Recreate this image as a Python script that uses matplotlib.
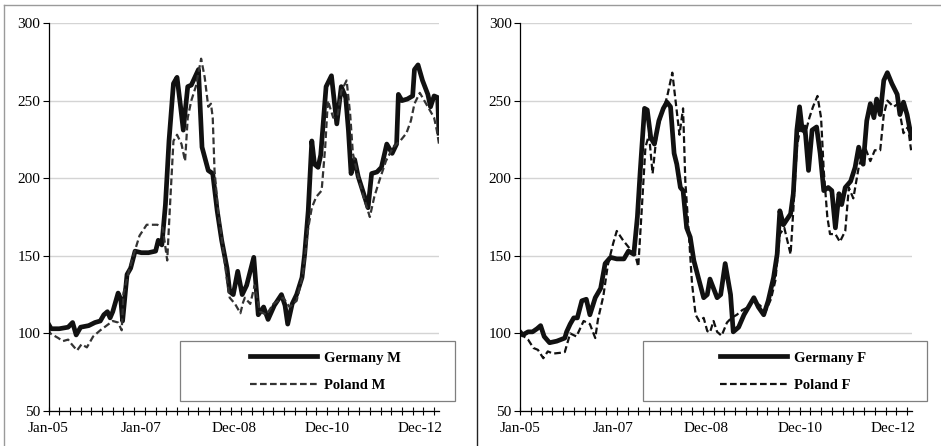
import matplotlib.pyplot as plt
from matplotlib.lines import Line2D
from matplotlib.patches import Rectangle

plt.rcParams['font.family'] = ['Liberation Serif', 'DejaVu Serif']

# weekly index, 0 = first week of Jan 2005
de_m_weeks = [0, 3, 12, 22, 27, 31, 36, 45, 52, 58, 62, 66, 69, 72, 78, 81, 83, 88, 92, 97,
              104, 112, 120, 123, 127, 131, 135, 140, 144, 148, 151, 156, 160, 164, 168, 172,
              179, 184, 189, 194, 200, 203, 207, 212, 217, 222, 230, 235, 241, 246, 253, 261,
              265, 268, 273, 278, 284, 287, 291, 295, 298, 302, 305, 311, 317, 323, 328, 333,
              336, 339, 343, 347, 352, 358, 362, 368, 373, 379, 385, 390, 392, 396, 402, 408,
              410, 414, 419, 425, 428, 432, 436, 437.5]
de_m_vals = [106, 103, 103, 104, 107, 99, 104, 105, 107, 108, 112, 114, 110, 114, 126, 122, 108,
             138, 142, 153, 152, 152, 153, 160, 157, 183, 224, 261, 265, 246, 231, 259, 260, 265,
             270, 220, 205, 203, 179, 160, 142, 127, 125, 140, 125, 131, 149, 112, 117, 109, 118,
             125, 118, 106, 119, 125, 136, 151, 179, 224, 209, 207, 215, 259, 266, 235, 259, 252,
             231, 203, 212, 201, 192, 181, 203, 204, 207, 222, 216, 222, 254, 250, 251, 253, 270,
             273, 263, 254, 246, 253, 252, 229]

pl_m_weeks = [0, 2, 11, 16, 22, 26, 32, 37, 43, 50, 58, 65, 72, 78, 82, 84, 90, 95, 102, 110,
              122, 128, 133, 136, 140, 144, 149, 153, 156, 160, 165, 171, 175, 179, 182, 184,
              186, 190, 194, 200, 203, 209, 215, 218, 220, 226, 231, 237, 244, 252, 263, 270,
              278, 285, 291, 295, 300, 306, 310, 313, 319, 324, 328, 334, 338, 341, 347, 353,
              360, 365, 371, 378, 386, 394, 401, 406, 410, 416, 421, 427, 432, 435, 437.5]
pl_m_vals = [103, 100, 97, 95, 96, 93, 89, 93, 91, 98, 102, 105, 108, 107, 102, 126, 140, 150,
             163, 170, 170, 168, 147, 181, 224, 228, 222, 211, 239, 250, 259, 277, 265, 246, 248,
             239, 205, 179, 162, 134, 123, 119, 113, 120, 123, 119, 131, 114, 112, 119, 123, 117,
             121, 138, 168, 181, 188, 192, 220, 250, 239, 241, 256, 263, 241, 216, 201, 188, 175,
             188, 199, 211, 220, 224, 229, 237, 248, 255, 250, 244, 239, 231, 222]

de_f_weeks = [0, 3, 9, 14, 19, 23, 27, 33, 41, 50, 52, 56, 60, 64, 69, 74, 78, 84, 90, 95, 101,
              108, 116, 121, 127, 131, 134, 136, 139, 142, 146, 150, 155, 160, 164, 168, 172, 175,
              179, 182, 186, 190, 194, 199, 205, 209, 212, 218, 220, 224, 229, 235, 238, 244, 250,
              255, 261, 266, 272, 277, 283, 287, 290, 294, 302, 305, 309, 312, 315, 318, 322, 326,
              331, 335, 339, 344, 348, 352, 356, 359, 363, 369, 374, 378, 383, 387, 391, 395, 398,
              402, 406, 410, 415, 421, 424, 428, 432, 436, 437.5]
de_f_vals = [101, 99, 101, 101, 103, 105, 98, 94, 95, 97, 101, 106, 110, 110, 121, 122, 112, 123,
             129, 145, 149, 148, 148, 153, 151, 175, 203, 220, 245, 244, 226, 222, 237, 245, 249,
             246, 216, 209, 194, 192, 168, 162, 147, 136, 123, 125, 135, 126, 123, 125, 145, 125,
             101, 104, 112, 117, 123, 117, 112, 121, 136, 151, 179, 170, 177, 190, 231, 246, 231,
             233, 205, 231, 233, 216, 192, 194, 192, 168, 190, 183, 194, 198, 207, 220, 209, 237,
             248, 239, 251, 241, 263, 268, 261, 254, 241, 249, 241, 229, 226]

pl_f_weeks = [0, 9, 15, 20, 26, 31, 37, 45, 50, 56, 63, 71, 78, 84, 87, 93, 98, 104, 108, 115,
              122, 128, 132, 136, 140, 144, 148, 153, 158, 164, 170, 174, 178, 182, 184.5, 188,
              192, 196, 200, 205, 209, 212, 216, 220, 225, 231, 236, 242, 248, 255, 260, 268, 274,
              280, 285, 290, 295, 302, 305, 309, 313, 318, 323, 327, 332, 336, 339, 343, 346, 352,
              357, 363, 367, 372, 378, 385, 391, 396, 402, 406, 410, 417, 422, 428, 433, 436.5]
pl_f_vals = [100, 96, 90.6, 89.4, 84, 88.4, 87, 87.5, 88, 100, 98, 108, 106, 97, 109, 124, 144,
             158, 166, 160, 155, 152, 143, 181, 220, 228, 203, 231, 241, 252, 268, 248, 228, 245,
             198, 168, 132, 112, 108, 110, 101.5, 100.6, 108, 101, 98.5, 107, 110, 112, 115, 117,
             121, 118, 114, 122, 134, 164, 168, 151, 179, 220, 233, 228, 239, 246, 253, 239, 205,
             175, 164, 164, 159, 166, 194, 187, 207, 220, 211, 218, 218, 241, 250, 246, 248, 229,
             233, 218]

label_weeks = [0, 104, 208, 312, 416]
label_text = ["Jan-05", "Jan-07", "Dec-08", "Dec-10", "Dec-12"]

W, H = 941, 446


def fx(px):
    return px / W


def fy(py):
    return 1 - py / H


def draw_panel(left, right, de_w, de_v, pl_w, pl_v, names, pl_color, box_x0, box_x1, handle_x):
    ax = fig.add_axes([fx(left), fy(411), fx(right - left), (411 - 23) / H])
    ax.plot(de_w, de_v, color="#111111", lw=3.4, label=names[0])
    ax.plot(pl_w, pl_v, color=pl_color, lw=1.6, dashes=(3, 1.5), label=names[1])
    ax.set_xlim(0, 437.5)
    ax.set_ylim(50, 300)
    ax.set_yticks(range(50, 301, 50))
    ax.yaxis.grid(True, color="#d4d4d4", lw=1)
    ax.set_axisbelow(True)
    ax.xaxis.remove_overlapping_locs = False
    ax.set_xticks(range(0, 433, 12))
    ax.set_xticklabels([])
    ax.set_xticks(label_weeks, minor=True)
    ax.set_xticklabels(label_text, minor=True)
    ax.tick_params(axis="x", which="major", direction="inout", length=6, width=0.8)
    ax.tick_params(axis="x", which="minor", length=0, pad=8, labelsize=11)
    ax.tick_params(axis="y", direction="out", length=4, width=0.8, pad=2, labelsize=11)
    for s in ("top", "right"):
        ax.spines[s].set_visible(False)
    ax.spines["left"].set_linewidth(0.9)
    ax.spines["bottom"].set_linewidth(0.9)

    # legend box is wider than its entries, so draw it separately
    ax.add_patch(Rectangle((fx(box_x0), fy(401)), fx(box_x1 - box_x0), (401 - 341) / H,
                           transform=fig.transFigure, facecolor="white",
                           edgecolor="#7f7f7f", lw=0.9, zorder=4, clip_on=False))
    leg = ax.legend(loc="center left", bbox_to_anchor=(fx(handle_x), fy(371.5)),
                    bbox_transform=fig.transFigure, frameon=False, borderpad=0,
                    handlelength=4.6, handletextpad=0.45, labelspacing=0.95,
                    prop={"weight": "bold", "size": 10.5})
    leg.set_zorder(6)
    return ax


fig = plt.figure(figsize=(W / 100, H / 100), dpi=100)

draw_panel(48.5, 439, de_m_weeks, de_m_vals, pl_m_weeks, pl_m_vals,
           ["Germany M", "Poland M"], "#333333", 180, 455, 243)
draw_panel(520, 912, de_f_weeks, de_f_vals, pl_f_weeks, pl_f_vals,
           ["Germany F", "Poland F"], "#111111", 643, 927, 713)

# panel frames
fig.add_artist(Line2D([fx(4), 1], [fy(5), fy(5)], color="#9a9a9a", lw=1,
                      transform=fig.transFigure))
fig.add_artist(Line2D([fx(4), fx(4)], [fy(5), 0], color="#9a9a9a", lw=1,
                      transform=fig.transFigure))
fig.add_artist(Line2D([fx(477), fx(477)], [fy(5), 0], color="#222222", lw=1,
                      transform=fig.transFigure))

fig.savefig("out.png", dpi=100)
plt.close(fig)
